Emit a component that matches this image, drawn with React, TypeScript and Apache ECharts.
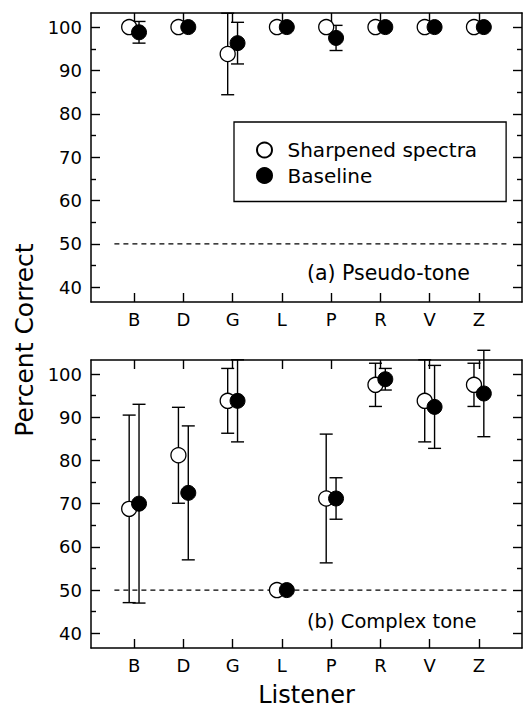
import React, { useEffect, useRef } from "react";
import * as echarts from "echarts";

const categories = ["B", "D", "G", "L", "P", "R", "V", "Z"];

// (a) Pseudo-tone
const pseudoSharp = [100, 100, 93.8, 100, 100, 100, 100, 100];
const pseudoSharpErr = [0, 0, 9.4, 0, 0, 0, 0, 0];
const pseudoBase = [98.8, 100, 96.3, 100, 97.5, 100, 100, 100];
const pseudoBaseErr = [2.5, 0, 4.8, 0, 2.9, 0, 0, 0];

// (b) Complex tone
const complexSharp = [68.8, 81.2, 93.8, 50, 71.2, 97.5, 93.8, 97.5];
const complexSharpErr = [21.7, 11.1, 7.5, 0, 14.9, 5, 9.5, 5];
const complexBase = [70, 72.5, 93.8, 50, 71.2, 98.8, 92.4, 95.5];
const complexBaseErr = [23, 15.5, 9.5, 0, 4.8, 2.5, 9.6, 10];

const majorTicks = [40, 50, 60, 70, 80, 90, 100];
const minorTicks = [45, 55, 65, 75, 85, 95];
const chanceLevel = 50;

const FONT = "DejaVu Sans";
const OFF = 0.1;
const X_MIN = 0.125;
const X_MAX = 8.875;
const Y_MIN = 36.6;
const Y_MAX = 103.25;

function errData(vals: number[], errs: number[], off: number) {
  const out: number[][] = [];
  vals.forEach((v, i) => {
    if (errs[i] > 0) out.push([i + 1 + off, v - errs[i], v + errs[i]]);
  });
  return out;
}

function ptData(vals: number[], off: number) {
  return vals.map((v, i) => [i + 1 + off, v]);
}

const renderErr = (params: any, api: any) => {
  const x = api.value(0);
  const lo = api.coord([x, api.value(1)]);
  const hi = api.coord([x, api.value(2)]);
  const hw = 6.5;
  const st = { stroke: "#000", lineWidth: 1.4 };
  return {
    type: "group",
    children: [
      { type: "line", shape: { x1: hi[0], y1: hi[1], x2: lo[0], y2: lo[1] }, style: st },
      { type: "line", shape: { x1: hi[0] - hw, y1: hi[1], x2: hi[0] + hw, y2: hi[1] }, style: st },
      { type: "line", shape: { x1: lo[0] - hw, y1: lo[1], x2: lo[0] + hw, y2: lo[1] }, style: st },
    ],
  };
};

const xValues = categories.map((_, i) => i + 1);

function xAxes(grid: number, withName: boolean) {
  const line = { show: true, onZero: false, lineStyle: { color: "#000", width: 1.5 } };
  return [
    {
      type: "value",
      gridIndex: grid,
      position: "bottom",
      min: X_MIN,
      max: X_MAX,
      axisLine: line,
      axisTick: { show: true, inside: true, length: 9, customValues: xValues, lineStyle: { color: "#000", width: 1.4 } },
      axisLabel: {
        show: true,
        customValues: xValues,
        formatter: (v: number) => categories[Math.round(v) - 1] ?? "",
        color: "#000",
        fontFamily: FONT,
        fontSize: 18,
        margin: 8,
      },
      splitLine: { show: false },
      name: withName ? "Listener" : "",
      nameLocation: "middle",
      nameGap: 35,
      nameTextStyle: { color: "#000", fontFamily: FONT, fontSize: 24 },
    },
    {
      type: "value",
      gridIndex: grid,
      position: "top",
      min: X_MIN,
      max: X_MAX,
      axisLine: line,
      axisTick: { show: true, inside: true, length: 9, customValues: xValues, lineStyle: { color: "#000", width: 1.4 } },
      axisLabel: { show: false },
      splitLine: { show: false },
    },
  ];
}

function yAxes(grid: number) {
  const mk = (position: string, ticks: number[], len: number, labels: boolean, showLine: boolean) => ({
    type: "value",
    gridIndex: grid,
    position,
    min: Y_MIN,
    max: Y_MAX,
    axisLine: { show: showLine, onZero: false, lineStyle: { color: "#000", width: 1.5 } },
    axisTick: { show: true, inside: true, length: len, customValues: ticks, lineStyle: { color: "#000", width: 1.4 } },
    axisLabel: labels
      ? { show: true, customValues: ticks, color: "#000", fontFamily: FONT, fontSize: 18, margin: 9 }
      : { show: false },
    splitLine: { show: false },
  });
  return [
    mk("left", majorTicks, 9, true, true),
    mk("left", minorTicks, 5, false, false),
    mk("right", majorTicks, 9, false, true),
    mk("right", minorTicks, 5, false, false),
  ];
}

const openStyle = { color: "#fff", borderColor: "#000", borderWidth: 1.3, opacity: 1 };
const filledStyle = { color: "#000", borderColor: "#000", borderWidth: 1, opacity: 1 };

function panelSeries(xi: number, yi: number, sharp: number[], sharpErr: number[], base: number[], baseErr: number[]) {
  return [
    {
      type: "line",
      xAxisIndex: xi,
      yAxisIndex: yi,
      data: [[0.6, chanceLevel], [8.63, chanceLevel]],
      showSymbol: false,
      symbol: "none",
      lineStyle: { color: "#000", width: 1.1, type: [5, 4] },
      silent: true,
      z: 1,
    },
    {
      type: "custom",
      name: "err-sharp",
      xAxisIndex: xi,
      yAxisIndex: yi,
      renderItem: renderErr,
      data: errData(sharp, sharpErr, -OFF),
      clip: false,
      silent: true,
      z: 2,
    },
    {
      type: "custom",
      name: "err-base",
      xAxisIndex: xi,
      yAxisIndex: yi,
      renderItem: renderErr,
      data: errData(base, baseErr, OFF),
      clip: false,
      silent: true,
      z: 2,
    },
    {
      type: "scatter",
      name: "Sharpened spectra",
      xAxisIndex: xi,
      yAxisIndex: yi,
      data: ptData(sharp, -OFF),
      symbol: "circle",
      symbolSize: 15,
      itemStyle: openStyle,
      emphasis: { disabled: true },
      clip: false,
      z: 3,
    },
    {
      type: "scatter",
      name: "Baseline",
      xAxisIndex: xi,
      yAxisIndex: yi,
      data: ptData(base, OFF),
      symbol: "circle",
      symbolSize: 15,
      itemStyle: filledStyle,
      emphasis: { disabled: true },
      clip: false,
      z: 4,
    },
  ];
}

export default function App() {
  const ref = useRef<HTMLDivElement>(null);
  useEffect(() => {
    if (!ref.current) return;
    const chart = echarts.init(ref.current, null, { renderer: "svg" });
    chart.setOption({
      animation: false,
      backgroundColor: "#fff",
      textStyle: { fontFamily: FONT, color: "#000" },
      grid: [
        { left: 91, top: 13, width: 431, height: 289, containLabel: false },
        { left: 91, top: 360, width: 431, height: 289, containLabel: false },
      ],
      xAxis: [...xAxes(0, false), ...xAxes(1, true)],
      yAxis: [...yAxes(0), ...yAxes(1)],
      legend: {
        data: ["Sharpened spectra", "Baseline"],
        orient: "vertical",
        left: 234,
        top: 122,
        padding: [18, 29, 16, 22],
        itemWidth: 36,
        itemHeight: 15,
        itemGap: 5.5,
        selectedMode: false,
        borderColor: "#000",
        borderWidth: 1.3,
        backgroundColor: "#fff",
        textStyle: { color: "#000", fontFamily: FONT, fontSize: 20, lineHeight: 15 },
      },
      graphic: [
        {
          type: "text",
          left: 307,
          top: 262,
          style: { text: "(a) Pseudo-tone", fill: "#000", font: `20.5px "${FONT}"` },
        },
        {
          type: "text",
          left: 307,
          top: 611,
          style: { text: "(b) Complex tone", fill: "#000", font: `19.5px "${FONT}"` },
        },
        {
          type: "text",
          x: 24,
          y: 340,
          rotation: Math.PI / 2,
          style: {
            text: "Percent Correct",
            fill: "#000",
            font: `25px "${FONT}"`,
            align: "center",
            verticalAlign: "middle",
          },
        },
      ],
      series: [
        ...panelSeries(0, 0, pseudoSharp, pseudoSharpErr, pseudoBase, pseudoBaseErr),
        ...panelSeries(2, 4, complexSharp, complexSharpErr, complexBase, complexBaseErr),
      ],
    });
    return () => chart.dispose();
  }, []);
  return (
    <div
      ref={ref}
      style={{ position: "absolute", left: 0, top: 0, width: 526, height: 708, background: "#fff" }}
    />
  );
}
